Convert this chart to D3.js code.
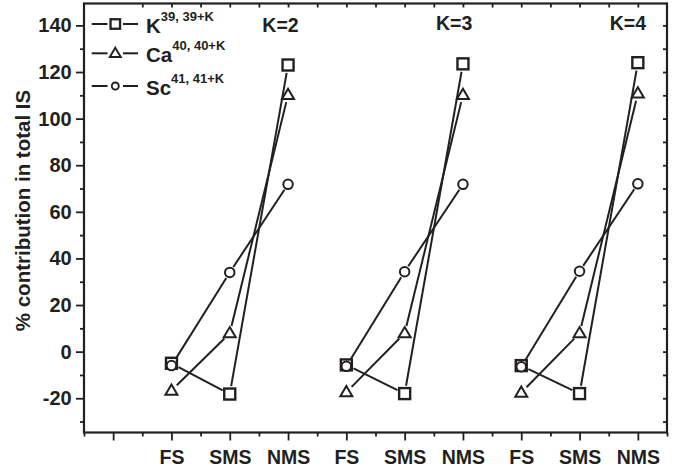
<!DOCTYPE html>
<html>
<head>
<meta charset="utf-8">
<script src="https://cdn.jsdelivr.net/npm/d3@7"></script>
<style>
  body { margin: 0; background: #fff; }
  text { font-family: "Liberation Sans", Arial, sans-serif; font-weight: bold; fill: #231f20; }
</style>
</head>
<body>
<svg id="chart" width="679" height="472"></svg>
<script>
// Category slots along the x axis (slot 0 is an empty spacer)
const categories = ["", "FS", "SMS", "NMS", "FS", "SMS", "NMS", "FS", "SMS", "NMS"];
const groupLabels = ["K=2", "K=3", "K=4"];

// % contribution in total IS, per group K=2, K=3, K=4 (FS, SMS, NMS each)
const kValues  = [-5.0, -18.2, 123.0,  -5.7, -18.0, 123.5,  -6.0, -18.0, 124.0];
const caValues = [-16.7,  7.9, 110.2, -17.4,   7.9, 110.2, -17.6,   7.9, 110.8];
const scValues = [-6.0,  34.0,  71.8,  -6.3,  34.3,  71.8,  -6.5,  34.5,  72.0];

const yTicks = [-20, 0, 20, 40, 60, 80, 100, 120, 140];
const yMinorTicks = [-30, -10, 10, 30, 50, 70, 90, 110, 130];

const series = [
  { base: "K",  sup: "39, 39+K", symbol: "square",   values: kValues },
  { base: "Ca", sup: "40, 40+K", symbol: "triangle", values: caValues },
  { base: "Sc", sup: "41, 41+K", symbol: "circle",   values: scValues }
];

const ink = "#231f20";
const svg = d3.select("#chart");

const plot = { left: 84, right: 667, top: 3.5, bottom: 432.5 };
const x = d3.scaleLinear().domain([-0.5, 9.5]).range([plot.left, plot.right]);
const y = d3.scaleLinear().domain([-34.7, 149.4]).range([plot.bottom, plot.top]);

// ---- axes ----
function styleAxis(g, width) {
  g.select(".domain").remove();
  g.selectAll(".tick line").attr("stroke", ink).attr("stroke-width", width);
}
function styleLabels(g, size) {
  g.selectAll("text").attr("font-size", size).attr("fill", ink)
    .style("font-family", '"Liberation Sans", Arial, sans-serif').style("font-weight", "bold");
}

const majorX = d3.range(0, 10);
const minorX = d3.range(0, 11).map(i => i - 0.5);

svg.append("g")
  .attr("transform", `translate(0,${plot.bottom})`)
  .call(d3.axisBottom(x).tickValues(majorX).tickFormat(i => categories[i]).tickSize(8).tickPadding(9.5))
  .call(g => styleAxis(g, 1.8))
  .call(g => styleLabels(g, 19.5));

svg.append("g")
  .attr("transform", `translate(0,${plot.bottom})`)
  .call(d3.axisBottom(x).tickValues(minorX).tickFormat("").tickSize(4))
  .call(g => styleAxis(g, 1.8));

svg.append("g")
  .attr("transform", `translate(${plot.left},0)`)
  .call(d3.axisLeft(y).tickValues(yTicks).tickFormat(d => String(d)).tickSize(8).tickPadding(4.3))
  .call(g => styleAxis(g, 1.8))
  .call(g => styleLabels(g, 20));

svg.append("g")
  .attr("transform", `translate(${plot.left},0)`)
  .call(d3.axisLeft(y).tickValues(yMinorTicks).tickFormat("").tickSize(4))
  .call(g => styleAxis(g, 1.8));

// inward ticks on the top and right edges
svg.append("g")
  .attr("transform", `translate(0,${plot.top})`)
  .call(d3.axisTop(x).tickValues(minorX.slice(1, -1).concat(majorX.slice(1))).tickFormat("").tickSize(-4))
  .call(g => styleAxis(g, 1.8));

svg.append("g")
  .attr("transform", `translate(${plot.right},0)`)
  .call(d3.axisRight(y).tickValues(yTicks.concat(yMinorTicks)).tickFormat("").tickSize(-4))
  .call(g => styleAxis(g, 1.8));

// frame
svg.append("rect")
  .attr("x", plot.left).attr("y", plot.top)
  .attr("width", plot.right - plot.left).attr("height", plot.bottom - plot.top)
  .attr("fill", "none").attr("stroke", ink).attr("stroke-width", 2.2);

// y axis title
svg.append("text")
  .attr("transform", "translate(30,210.5) rotate(-90)")
  .attr("text-anchor", "middle")
  .attr("font-size", 20.5)
  .text("% contribution in total IS");

// ---- markers ----
function drawSymbol(g, kind, cx, cy, s, sw) {
  if (kind === "square") {
    g.append("rect").attr("x", cx - s / 2).attr("y", cy - s / 2).attr("width", s).attr("height", s)
      .attr("fill", "#fff").attr("stroke", ink).attr("stroke-width", sw + 0.4);
  } else if (kind === "triangle") {
    const h = s * 0.85;
    g.append("path")
      .attr("d", `M${cx},${cy - h * 0.6}L${cx + s / 2},${cy + h * 0.4}L${cx - s / 2},${cy + h * 0.4}Z`)
      .attr("fill", "#fff").attr("stroke", ink).attr("stroke-width", sw).attr("stroke-linejoin", "miter");
  } else {
    g.append("circle").attr("cx", cx).attr("cy", cy).attr("r", s / 2 - 0.5)
      .attr("fill", "#fff").attr("stroke", ink).attr("stroke-width", sw);
  }
}

const symbolSize = { square: 11, triangle: 12, circle: 10.5 };
const lineGap = { square: 8, triangle: 7.5, circle: 6.5 };

// connecting lines, broken around each marker
const lineLayer = svg.append("g");
const markLayer = svg.append("g");

series.forEach(s => {
  for (let grp = 0; grp < 3; grp++) {
    const pts = [0, 1, 2].map(j => {
      const i = grp * 3 + j;
      return [x(i + 1), y(s.values[i])];
    });
    for (let j = 0; j < 2; j++) {
      const [x0, y0] = pts[j], [x1, y1] = pts[j + 1];
      const len = Math.hypot(x1 - x0, y1 - y0);
      const ux = (x1 - x0) / len, uy = (y1 - y0) / len;
      const gap = lineGap[s.symbol];
      lineLayer.append("line")
        .attr("x1", x0 + ux * gap).attr("y1", y0 + uy * gap)
        .attr("x2", x1 - ux * gap).attr("y2", y1 - uy * gap)
        .attr("stroke", ink).attr("stroke-width", 2);
    }
  }
});

series.forEach(s => {
  s.values.forEach((v, i) => drawSymbol(markLayer, s.symbol, x(i + 1), y(v), symbolSize[s.symbol], 2));
});

// group labels
const groupAnchors = [[2.87, 137], [5.85, 138.2], [8.83, 138.2]];
groupLabels.forEach((t, i) => {
  svg.append("text")
    .attr("x", x(groupAnchors[i][0])).attr("y", y(groupAnchors[i][1]))
    .attr("text-anchor", "middle").attr("font-size", 19.5)
    .text(t);
});

// ---- legend ----
const legendRows = [24, 53.3, 86];
const legendSize = { square: 9.5, triangle: 11, circle: 8 };
series.forEach((s, i) => {
  const ly = legendRows[i];
  const g = svg.append("g");
  g.append("line").attr("x1", 91.7).attr("x2", 107.5).attr("y1", ly).attr("y2", ly)
    .attr("stroke", ink).attr("stroke-width", 2);
  g.append("line").attr("x1", 123).attr("x2", 138).attr("y1", ly).attr("y2", ly)
    .attr("stroke", ink).attr("stroke-width", 2);
  drawSymbol(g, s.symbol, 115.3, ly, legendSize[s.symbol], 1.9);
  const t = g.append("text").attr("x", 146).attr("y", ly + 8.5).attr("font-size", 20.5);
  t.append("tspan").text(s.base);
  t.append("tspan").attr("dy", -11.5).attr("font-size", 13).text(s.sup);
});
</script>
</body>
</html>
